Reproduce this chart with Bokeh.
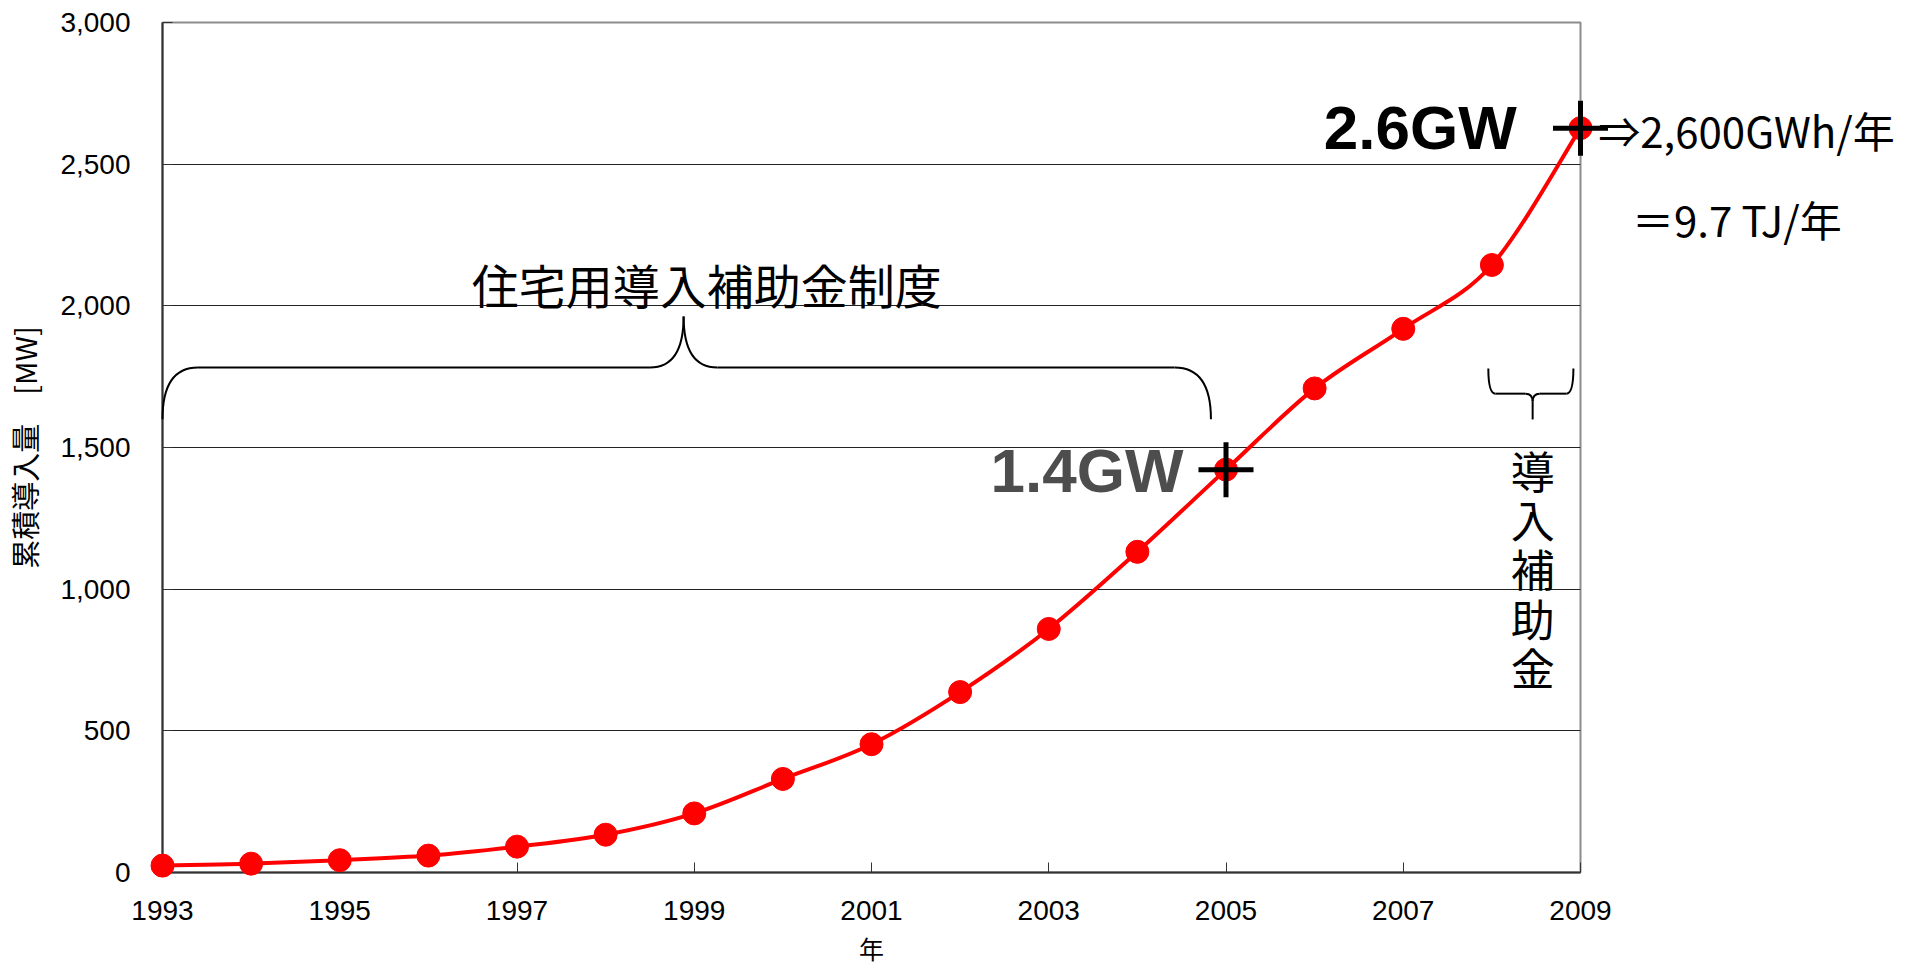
from bokeh.plotting import figure
from bokeh.models import Range1d, FixedTicker, Label, NumeralTickFormatter
from bokeh.core.properties import value
from bokeh.embed import file_html
from bokeh.resources import INLINE

# ---------------- data ----------------
years = [1993, 1994, 1995, 1996, 1997, 1998, 1999, 2000, 2001,
         2002, 2003, 2004, 2005, 2006, 2007, 2008, 2009]
capacity_mw = [24.3, 31.2, 43.4, 59.6, 91.3, 133.4, 208.6, 330.2, 452.8,
               636.8, 859.6, 1131.9, 1421.9, 1708.5, 1918.9, 2144.2, 2627.2]
x_tick_years = [1993, 1995, 1997, 1999, 2001, 2003, 2005, 2007, 2009]
y_tick_values = [0, 500, 1000, 1500, 2000, 2500, 3000]
grid_values = [500, 1000, 1500, 2000, 2500]

x_label = "年"
y_label = "累積導入量　[MW]"
program_text = "住宅用導入補助金制度"
label_2005 = "1.4GW"
label_2009 = "2.6GW"
energy_text = "⇒2,600GWh/年"
joule_text = "＝9.7 TJ/年"
subsidy_chars = ["導", "入", "補", "助", "金"]
marked_years = [2005, 2009]

# ---------------- styles ----------------
LATIN = "Liberation Sans"
CJK = "Noto Sans CJK JP"
RED = "#ff0000"

p = figure(frame_width=1418, frame_height=850,
           min_border_left=157, min_border_right=331,
           min_border_top=22, min_border_bottom=96,
           x_range=Range1d(1993, 2009), y_range=Range1d(0, 3000),
           output_backend="svg", toolbar_location=None,
           background_fill_color="white", border_fill_color="white")

p.outline_line_color = "#8c8c8c"
p.outline_line_width = 2

# axes
p.xaxis.ticker = FixedTicker(ticks=x_tick_years)
p.yaxis.ticker = FixedTicker(ticks=y_tick_values)
p.yaxis.formatter = NumeralTickFormatter(format="0,0")
for ax in (p.xaxis, p.yaxis):
    ax.axis_line_color = "#333333"
    ax.axis_line_width = 2
    ax.major_tick_in = 10
    ax.major_tick_out = 0
    ax.major_tick_line_color = "#333333"
    ax.major_tick_line_width = 1
    ax.minor_tick_line_color = None
    ax.major_label_text_font = LATIN
    ax.major_label_text_font_size = "28px"
    ax.major_label_text_color = "black"
    ax.axis_label_text_font = CJK
    ax.axis_label_text_font_style = "normal"
    ax.axis_label_text_color = "black"
p.xaxis.major_label_standoff = 28
p.yaxis.major_label_standoff = 32
p.yaxis.axis_label = y_label
p.yaxis.axis_label_text_font_size = "29px"
p.yaxis.axis_label_standoff = 12

p.xgrid.grid_line_color = None
p.ygrid.ticker = FixedTicker(ticks=grid_values)
p.ygrid.grid_line_color = "#222222"
p.ygrid.grid_line_width = 1

# ---------------- smoothed line (Bezier through the data points) ----------------
n = len(years)
bx0, by0, bx1, by1, cx0, cy0, cx1, cy1 = [], [], [], [], [], [], [], []
for i in range(n - 1):
    i0 = max(i - 1, 0)
    i3 = min(i + 2, n - 1)
    xa, ya = years[i0], capacity_mw[i0]
    xb, yb = years[i], capacity_mw[i]
    xc, yc = years[i + 1], capacity_mw[i + 1]
    xd, yd = years[i3], capacity_mw[i3]
    bx0.append(xb); by0.append(yb)
    bx1.append(xc); by1.append(yc)
    cx0.append(xb + (xc - xa) / 6.0); cy0.append(yb + (yc - ya) / 6.0)
    cx1.append(xc - (xd - xb) / 6.0); cy1.append(yc - (yd - yb) / 6.0)

p.bezier(x0=bx0, y0=by0, x1=bx1, y1=by1, cx0=cx0, cy0=cy0, cx1=cx1, cy1=cy1,
         line_color=RED, line_width=4, level="overlay")
p.scatter(years, capacity_mw, size=23, marker="circle",
          fill_color=RED, line_color=RED, level="overlay")

marked_vals = [capacity_mw[years.index(y)] for y in marked_years]
p.scatter(marked_years, marked_vals, marker="cross", size=55,
          line_color="black", line_width=5, level="overlay")

# ---------------- braces ----------------
# big brace (1993 - 2004.8)
bl, bcl, bpl, bp, bpr, bcr, br = 1993.0, 1993.4, 1998.5, 1998.88, 1999.26, 2004.42, 2004.83
b_end, b_bar, b_peak = 1600, 1782, 1962
p.quadratic(x0=[bl, bpl, bpr, br], y0=[b_end, b_bar, b_bar, b_end],
            x1=[bcl, bp, bp, bcr], y1=[b_bar, b_peak, b_peak, b_bar],
            cx=[bl, bp, bp, br], cy=[b_bar, b_bar, b_bar, b_bar],
            line_color="black", line_width=2, level="overlay")
p.segment(x0=[bcl, bpr], y0=[b_bar, b_bar], x1=[bpl, bcr], y1=[b_bar, b_bar],
          line_color="black", line_width=2, level="overlay")

# small brace (2008 - 2009)
sl, sc, sr = 2007.96, 2008.46, 2008.92
s_top, s_bar, s_tip = 1779, 1690, 1599
dx_c, dy_c = 0.08, 28
p.quadratic(x0=[sl, sr, sc - dx_c, sc + dx_c], y0=[s_top, s_top, s_bar, s_bar],
            x1=[sl + dx_c, sr - dx_c, sc, sc], y1=[s_bar, s_bar, s_bar - dy_c, s_bar - dy_c],
            cx=[sl, sr, sc, sc], cy=[s_bar, s_bar, s_bar, s_bar],
            line_color="black", line_width=2, level="overlay")
p.segment(x0=[sl + dx_c, sc + dx_c, sc], y0=[s_bar, s_bar, s_bar - dy_c],
          x1=[sc - dx_c, sr - dx_c, sc], y1=[s_bar, s_bar, s_tip],
          line_color="black", line_width=2, level="overlay")

# ---------------- texts ----------------
p.add_layout(Label(x=1999.14, y=2079, text=program_text, text_align="center",
                   text_baseline="middle", text_font=CJK, text_font_size="47px",
                   text_color="black"))
p.add_layout(Label(x=2004.52, y=1419, text=label_2005, text_align="right",
                   text_baseline="middle", text_font=LATIN, text_font_size="62px",
                   text_font_style="bold", text_color="#4d4d4d"))
p.add_layout(Label(x=2008.28, y=2629, text=label_2009, text_align="right",
                   text_baseline="middle", text_font=LATIN, text_font_size="62px",
                   text_font_style="bold", text_color="black"))
sub_y0, sub_step = 1419, 173
for k, ch in enumerate(subsidy_chars):
    p.add_layout(Label(x=sc, y=sub_y0 - k * sub_step, text=ch, text_align="center",
                       text_baseline="middle", text_font=CJK, text_font_size="44px",
                       text_color="black"))

# texts outside the frame (unclipped overlay glyphs)
p.text(x=[2009.2], y=[2622], text=[energy_text], text_align="left",
       text_baseline="middle", text_font=value(CJK), text_font_size="42px",
       text_color="black", level="overlay")
p.text(x=[2009.58], y=[2308], text=[joule_text], text_align="left",
       text_baseline="middle", text_font=value(CJK), text_font_size="42px",
       text_color="black", level="overlay")
p.text(x=[2001], y=[-265], text=[x_label], text_align="center",
       text_baseline="middle", text_font=value(CJK), text_font_size="25px",
       text_color="black", level="overlay")

open("out.html", "w").write(file_html(p, INLINE))
